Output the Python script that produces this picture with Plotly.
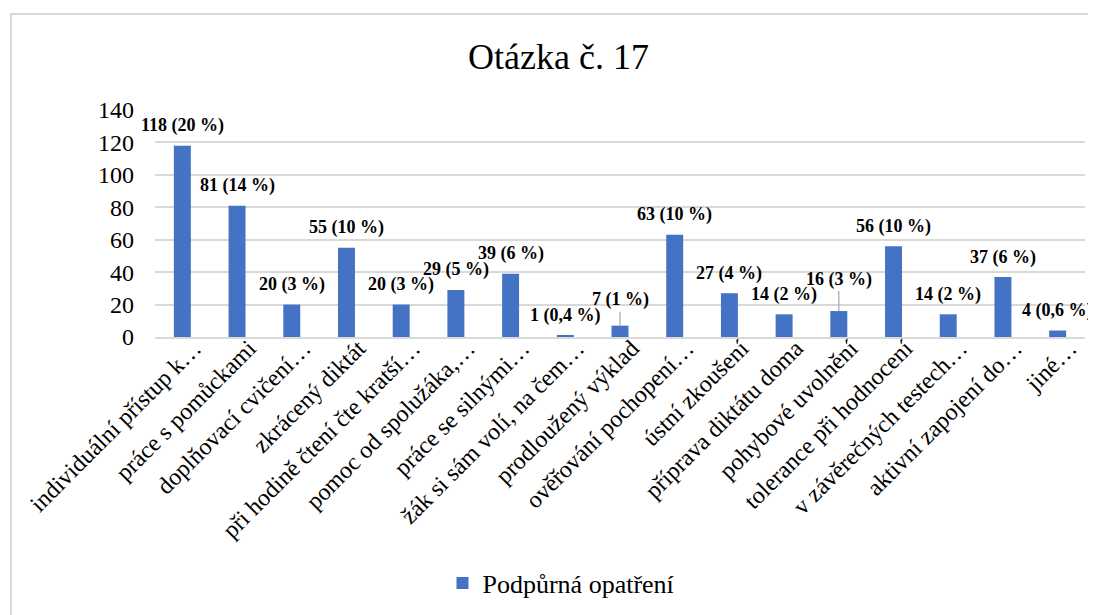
import plotly.graph_objects as go

categories = [
    "individuální přístup k…", "práce s pomůckami", "doplňovací cvičení…",
    "zkrácený diktát", "při hodině čtení čte kratší…", "pomoc od spolužáka,…",
    "práce se silnými…", "žák si sám volí, na čem…", "prodloužený výklad",
    "ověřování pochopení…", "ústní zkoušení", "příprava diktátu doma",
    "pohybové uvolnění", "tolerance při hodnocení", "v závěrečných testech…",
    "aktivní zapojení do…", "jiné…",
]
counts = [118, 81, 20, 55, 20, 29, 39, 1, 7, 63, 27, 14, 16, 56, 14, 37, 4]
percents = ["20 %", "14 %", "3 %", "10 %", "3 %", "5 %", "6 %", "0,4 %", "1 %",
            "10 %", "4 %", "2 %", "3 %", "10 %", "2 %", "6 %", "0,6 %"]
series_name = "Podpůrná opatření"
title_text = "Otázka č. 17"
y_ticks = [0, 20, 40, 60, 80, 100, 120, 140]

# ---- style / layout (pixel values refer to the 1096x615 page) ----
BAR_COLOR = "#4472C4"
FONT = "Liberation Serif"
GRID = "#d9d9d9"
OFF = 8                      # default body margin of the html page
W, H = 1096 - OFF, 615 - OFF
PLOT_L, PLOT_R, PLOT_T, PLOT_B = 155, 1085, 110, 337   # page pixels
ML, MR = PLOT_L - OFF, (W + OFF) - PLOT_R
MT, MB = PLOT_T - OFF, (H + OFF) - PLOT_B
plot_w = PLOT_R - PLOT_L
plot_h = PLOT_B - PLOT_T


def px_x(x):
    return (x - PLOT_L) / plot_w


def px_y(y):
    return (PLOT_B - y) / plot_h


label_lift_default = 20
label_lift_special = {8: 26, 12: 32}  # labels moved up, with leader lines

fig = go.Figure()
fig.add_trace(go.Bar(
    x=categories, y=counts, name=series_name,
    marker=dict(color=BAR_COLOR, line=dict(width=0)),
    width=0.31, showlegend=True,
))

annotations = []
for i, (c, v, p) in enumerate(zip(categories, counts, percents)):
    txt = f"<b>{v} ({p})</b>"
    if i in label_lift_special:
        annotations.append(dict(
            x=c, y=v, xref="x", yref="y", text=txt, showarrow=True,
            arrowhead=0, arrowwidth=1.2, arrowcolor="#a6a6a6",
            ax=0, ay=-label_lift_special[i], standoff=0,
            font=dict(family=FONT, size=18, color="#000000"),
        ))
    else:
        annotations.append(dict(
            x=c, y=v, xref="x", yref="y", text=txt, showarrow=False,
            yanchor="middle", yshift=label_lift_default,
            font=dict(family=FONT, size=18, color="#000000"),
        ))

annotations.append(dict(
    text=title_text, xref="paper", yref="paper",
    x=px_x(558), y=px_y(57), xanchor="center", yanchor="middle",
    showarrow=False, font=dict(family=FONT, size=36, color="#000000"),
))

fig.update_layout(
    width=W, height=H,
    margin=dict(l=ML, r=MR, t=MT, b=MB, autoexpand=False),
    paper_bgcolor="white", plot_bgcolor="white",
    font=dict(family=FONT, size=24, color="#000000"),
    annotations=annotations,
    legend=dict(
        orientation="h", x=px_x(561), xanchor="center",
        y=px_y(583), yanchor="middle",
        font=dict(family=FONT, size=26, color="#000000"),
        itemwidth=30,
    ),
    shapes=[dict(
        type="rect", xref="paper", yref="paper",
        x0=px_x(11), x1=1.2, y0=-2.0, y1=px_y(14),
        line=dict(color="#d9d9d9", width=2), fillcolor="rgba(0,0,0,0)",
        layer="below",
    )],
)

fig.update_xaxes(
    type="category", range=[-0.5, len(categories) - 0.5],
    tickangle=-45, automargin=False,
    showline=True, linecolor=GRID, linewidth=1.5,
    showgrid=False, ticks="",
    ticklabelstandoff=-14, ticklabelshift=12,
    tickfont=dict(family=FONT, size=24, color="#000000"),
)
fig.update_yaxes(
    range=[0, 140], tickvals=y_ticks, automargin=False,
    showgrid=True, gridcolor=GRID, gridwidth=1.5,
    zeroline=False, showline=False, ticks="",
    ticklabelstandoff=20,
    tickfont=dict(family=FONT, size=24, color="#000000"),
)

fig.write_html("out.html")
